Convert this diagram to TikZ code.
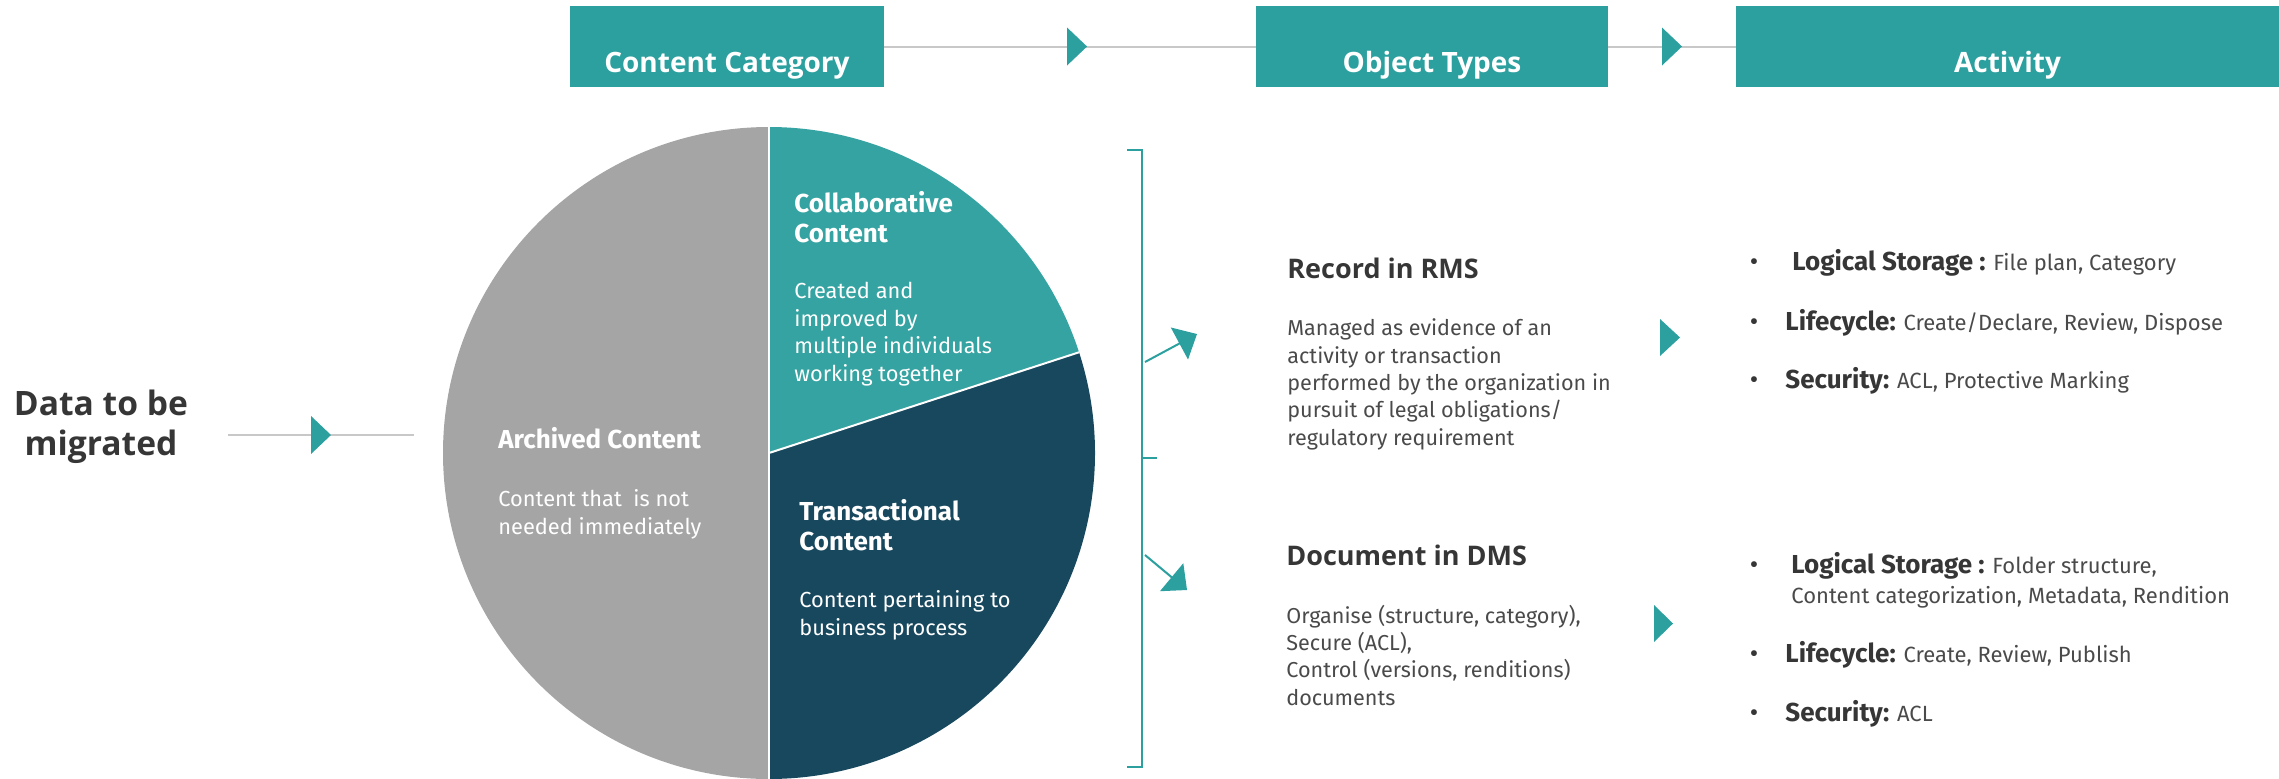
\documentclass[tikz,border=0pt]{standalone}
\usepackage{fontspec}
\setmainfont{Fira Sans}
\newfontfamily\osans{Open Sans}
\usetikzlibrary{arrows.meta,decorations.markings}
\definecolor{tealhdr}{HTML}{2BA09F}
\definecolor{collab}{HTML}{35A3A1}
\definecolor{trans}{HTML}{18485E}
\definecolor{arch}{HTML}{A5A5A5}
\definecolor{linegray}{HTML}{C8C8C8}
\definecolor{darktxt}{HTML}{363636}
\definecolor{bodytxt}{HTML}{4A4A4A}
\tikzset{
  hdrbox/.style={fill=tealhdr, draw=none, inner sep=0pt, minimum height=40.5pt},
  hdrtxt/.style={text=white, font=\osans\bfseries\fontsize{14}{16}\selectfont, anchor=base, inner sep=0pt},
  conn/.style={draw=linegray, line width=1pt},
  midarrow/.style={postaction={decorate}, decoration={markings, mark=at position #1 with {\fill[tealhdr] (-5pt,9.5pt) -- (5pt,0pt) -- (-5pt,-9.5pt) -- cycle;}}},
  midarrow/.default=0.5,
  tealarrow/.style={draw=tealhdr, line width=1pt, -{Triangle[length=10pt,width=18pt]}, tealhdr},
  pietitle/.style={text=white, font=\bfseries\fontsize{13}{15}\selectfont, align=left, anchor=base west, inner sep=0pt},
  piebody/.style={text=white, font=\fontsize{10.9}{13.75}\selectfont, align=left, anchor=base west, inner sep=0pt},
  objtitle/.style={text=darktxt, font=\osans\bfseries\fontsize{13.5}{16}\selectfont, anchor=base west, inner sep=0pt},
  objbody/.style={text=bodytxt, font=\fontsize{10.8}{13.65}\selectfont, align=left, anchor=base west, inner sep=0pt},
  acttxt/.style={text=bodytxt, font=\fontsize{11}{15}\selectfont, align=left, anchor=base west, inner sep=0pt},
  bulletnode/.style={text=darktxt, font=\fontsize{13}{15}\selectfont, anchor=base, inner sep=0pt},
  datatxt/.style={text=darktxt, font=\osans\bfseries\fontsize{16.8}{20}\selectfont, align=center, anchor=base, inner sep=0pt},
  arrowhd/.style={fill=tealhdr, draw=none}
}
\newcommand{\actb}[1]{{\color{darktxt}\bfseries\fontsize{13}{15}\selectfont #1}}
\begin{document}
\begin{tikzpicture}[x=0.5pt,y=-0.5pt]
\useasboundingbox (0,0) rectangle (2279,778);

% header boxes
\node[hdrbox, minimum width=157pt] (cc) at (727,46.5) {};
\node[hdrbox, minimum width=176pt] (ot) at (1432,46.5) {};
\node[hdrbox, minimum width=271.5pt] (ac) at (2007.5,46.5) {};
\node[hdrtxt] (cct) at (727,72) {Content Category};
\node[hdrtxt] (ott) at (1432,72) {Object Types};
\node[hdrtxt] (act) at (2007.5,72) {Activity};
\draw[conn, midarrow=0.519] (cc.east) -- (ot.west);
\draw[conn, midarrow] (ot.east) -- (ac.west);

% data to be migrated (base anchor = last line)
\node[datatxt] (data) at (101,455) {Data to be\\migrated};
\coordinate (din) at (228,435);
\coordinate (dout) at (414,435);
\draw[conn, midarrow] (din) -- (dout);

% pie
\node[circle, minimum size=326pt, inner sep=0pt] (pie) at (769,453) {};
\fill[arch] (769,453) -- ++(90:163pt) arc[start angle=90, end angle=270, radius=163pt] -- cycle;
\fill[collab] (769,453) -- ++(18:163pt) arc[start angle=18, end angle=90, radius=163pt] -- cycle;
\fill[trans] (769,453) -- ++(-90:163pt) arc[start angle=-90, end angle=18, radius=163pt] -- cycle;
\draw[white, line width=1pt] (769,126) -- (769,779);
\draw[white, line width=1pt] (769,453) -- ++(18:163pt);

\node[pietitle] (colt) at (794,242) {Collaborative\\Content};
\node[piebody] (colb) at (794,381) {Created and\\improved by\\multiple individuals\\working together};
\node[pietitle] (arct) at (498,448) {Archived Content};
\node[piebody] (arcb) at (498,534) {Content that~ is not\\needed immediately};
\node[pietitle] (trat) at (799,550) {Transactional\\Content};
\node[piebody] (trab) at (799,635) {Content pertaining to\\business process};

% bracket
\draw[tealhdr, line width=0.9pt] (1127,150) -- (1142,150) -- (1142,767) -- (1127,767);
\draw[tealhdr, line width=0.9pt] (1142,458) -- (1157,458);
\coordinate (b1) at (1145,362);
\coordinate (t1) at (1197,334);
\coordinate (b2) at (1145,555);
\coordinate (t2) at (1187,590);
\draw[tealarrow] (b1) -- (t1);
\draw[tealarrow] (b2) -- (t2);

% object types
\node[objtitle] (rms) at (1287,278) {Record in RMS};
\node[objbody] (rmsb) at (1287,445) {Managed as evidence of an\\activity or transaction\\performed by the organization in\\pursuit of legal obligations/\\regulatory requirement};
\node[objtitle] (dms) at (1286,565) {Document in DMS};
\node[objbody] (dmsb) at (1286,705) {Organise (structure, category),\\Secure (ACL),\\Control (versions, renditions)\\documents};

% activity arrowheads
\fill[arrowhd] (1660,319) -- (1680,337.5) -- (1660,356) -- cycle;
\fill[arrowhd] (1654,605) -- (1673,623.5) -- (1654,642) -- cycle;

% activity lists
\node[bulletnode] (u1) at (1754,270) {•};
\node[acttxt] (l1) at (1792,270) {\actb{Logical Storage :} File plan, Category};
\node[bulletnode] (u2) at (1754,330) {•};
\node[acttxt] (l2) at (1785,330) {\actb{Lifecycle:} Create/Declare, Review, Dispose};
\node[bulletnode] (u3) at (1754,388) {•};
\node[acttxt] (l3) at (1785,388) {\actb{Security:} ACL, Protective Marking};

\node[bulletnode] (u4) at (1754,573) {•};
\node[acttxt] (l4) at (1791,603) {\actb{Logical Storage :} Folder structure,\\Content categorization, Metadata, Rendition};
\node[bulletnode] (u5) at (1754,662) {•};
\node[acttxt] (l5) at (1785,662) {\actb{Lifecycle:} Create, Review, Publish};
\node[bulletnode] (u6) at (1754,721) {•};
\node[acttxt] (l6) at (1785,721) {\actb{Security:} ACL};
\end{tikzpicture}
\end{document}
